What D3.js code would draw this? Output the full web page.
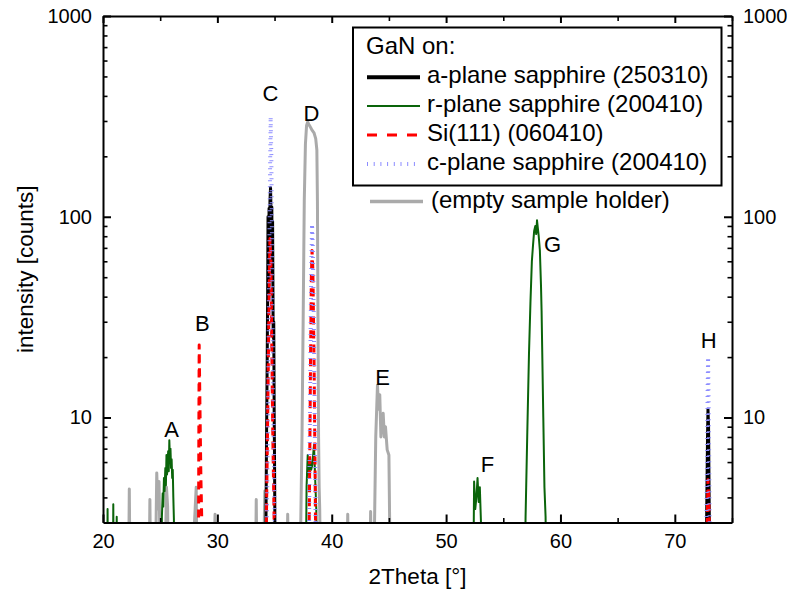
<!DOCTYPE html>
<html>
<head>
<meta charset="utf-8">
<script src="https://cdn.jsdelivr.net/npm/d3@7/dist/d3.min.js"></script>
<style>
  body { margin: 0; background: #fff; }
  svg text { font-family: "Liberation Sans", Arial, Helvetica, sans-serif; fill: #000; }
</style>
</head>
<body>
<svg id="chart" width="787" height="592"></svg>
<script>
// XRD 2theta scans of GaN layers on different substrates (log intensity)

// a-plane sapphire (250310)
const aPlaneX = [20, 34.2, 34.25, 34.3, 34.36, 34.4, 34.43, 34.47, 34.52, 34.56, 34.6, 34.65, 34.68, 34.72,
                 34.76, 34.8, 34.83, 34.88, 34.93, 34.97, 35.0, 35.03, 35.08,
                 72.7, 72.8, 72.86, 72.9, 72.95, 73.0, 73.1, 75];
const aPlaneY = [1, 1, 3, 8, 20, 45, 100, 40, 110, 60, 120, 140, 115, 70,
                 112, 50, 95, 25, 30, 10, 6, 3, 1,
                 1, 4, 8, 11, 9, 4, 1, 1];

// r-plane sapphire (200410)
const rPlaneX = [20, 20.35, 20.4, 20.45, 20.85, 20.9, 20.95, 21.15, 21.2, 21.25,
                 25.1, 25.15, 25.22, 25.27, 25.33, 25.38, 25.45, 25.5, 25.55, 25.6, 25.65, 25.7, 25.75, 25.8,
                 25.85, 25.9, 25.95, 26.0, 26.05, 26.1, 26.15, 26.2, 26.25,
                 37.7, 37.8, 37.9, 38.0, 38.1, 38.2, 38.3, 38.45, 38.55, 38.65, 38.75,
                 52.35, 52.45, 52.55, 52.65, 52.75, 52.85, 52.95, 53.05, 53.15,
                 56.85, 56.95, 57.1, 57.25, 57.38, 57.5, 57.6, 57.7, 57.8, 57.88, 57.95, 58.02, 58.1, 58.2, 58.3, 58.35, 58.5, 58.6, 58.7, 58.8,
                 75];
const rPlaneY = [1, 1, 3.5, 1, 1, 3.7, 1, 1, 3.2, 1,
                 1, 3.2, 4.2, 3.6, 5.0, 4.3, 5.6, 4.6, 6.5, 5.2, 6.0, 6.8, 5.4, 7.7,
                 6.3, 7.0, 5.6, 6.2, 5.0, 5.5, 4.0, 3.1, 1,
                 1, 4.5, 6.5, 5.2, 6.3, 5.5, 5.8, 7.3, 5.0, 3.5, 1,
                 1, 4.8, 3.5, 4.0, 5.0, 3.8, 4.5, 3.0, 1,
                 1, 3.2, 8.4, 21, 38, 60, 72, 85, 90, 82, 96, 88, 80, 68, 45, 34, 10, 4.5, 3.2, 1,
                 1];

// Si(111) (060410)
const siX = [20, 28.33, 28.38, 28.41, 28.45, 28.5, 28.56, 28.63, 28.7,
             34.2, 34.3, 34.4, 34.5, 34.6, 34.68, 34.75, 34.85, 34.95, 35.05,
             37.95, 38.05, 38.15, 38.22, 38.28, 38.35, 38.45, 38.55, 38.65,
             72.75, 72.85, 72.9, 72.95, 73.0, 73.1, 75];
const siY = [1, 1, 8, 23, 15, 9, 5, 3.2, 1,
             1, 3.5, 10, 30, 78, 60, 25, 8, 3.5, 1,
             1, 4, 20, 50, 68, 55, 20, 5, 1,
             1, 3.5, 4.9, 4.2, 3.3, 1, 1];

// c-plane sapphire (200410)
const cPlaneX = [20, 34.25, 34.35, 34.45, 34.55, 34.62, 34.66, 34.72, 34.8, 34.9, 35.0, 35.1,
                 37.95, 38.05, 38.15, 38.22, 38.28, 38.35, 38.45, 38.55, 38.65,
                 72.7, 72.8, 72.87, 72.91, 72.96, 73.02, 73.1, 75];
const cPlaneY = [1, 1, 4, 15, 80, 200, 315, 200, 50, 10, 3.5, 1,
                 1, 5, 25, 60, 92, 70, 25, 6, 1,
                 1, 5, 14, 20, 12, 5, 1, 1];

// empty sample holder
const holderX = [20, 22.25, 22.3, 22.35, 24.05, 24.1, 24.15, 24.6, 24.7, 24.8, 24.9, 25.0,
                 25.45, 25.55, 25.65, 25.7, 27.85, 28.15, 28.2, 29.7, 29.8, 29.9,
                 33.35, 33.4, 33.45, 34.05, 34.15, 34.25, 36.1, 36.15, 36.2,
                 37.25, 37.3, 37.4, 37.5, 37.6, 37.7, 37.8, 37.9, 38.0, 38.1, 38.25, 38.45, 38.6, 38.7,
                 38.75, 38.8, 38.85, 38.9, 38.95, 39.0,
                 41.35, 41.4, 41.45, 43.35, 43.4, 43.45,
                 43.7, 43.85, 44.0, 44.1, 44.2, 44.3, 44.4, 44.5, 44.6, 44.7, 44.85, 45.0, 45.1, 75];
const holderY = [2, 2, 4.4, 2, 2, 3.9, 2, 2, 5.3, 3.5, 4.8, 2,
                 2, 4.5, 3.6, 2, 2, 4.5, 2, 2, 3.3, 2,
                 2, 3.9, 2, 2, 4.3, 2, 2, 3.3, 2,
                 2, 3.2, 8, 30, 120, 230, 285, 297, 288, 282, 272, 262, 245, 215,
                 120, 30, 8, 4.5, 3.5, 2,
                 2, 3.3, 2, 2, 3.4, 2,
                 2, 8, 14.5, 11, 13, 8, 9.5, 10.5, 8, 9, 6.9, 6.5, 2, 2];

// peak letters: label, 2theta of its centre, counts at its baseline
const peakNames = ["A", "B", "C", "D", "E", "F", "G", "H"];
const peakPosX  = [26.0, 28.69, 34.64, 38.22, 44.44, 53.62, 59.31, 72.96];
const peakPosY  = [8.0, 27.0, 377, 301, 14.5, 5.37, 67, 22.3];

const xTicks = [20, 30, 40, 50, 60, 70];
const xMinor = [25, 35, 45, 55, 65, 75];
const yTicks = [10, 100, 1000];
const yMinor = [4, 5, 6, 7, 8, 9, 20, 30, 40, 50, 60, 70, 80, 90, 200, 300, 400, 500, 600, 700, 800, 900];

const series = [
  { name: "r-plane sapphire (200410)", xs: rPlaneX, ys: rPlaneY, color: "#0a640a", width: 2, dash: null,  legendDash: null },
  { name: "(empty sample holder)",     xs: holderX, ys: holderY, color: "#aaaaaa", width: 3, dash: null,  legendDash: null },
  { name: "a-plane sapphire (250310)", xs: aPlaneX, ys: aPlaneY, color: "#000000", width: 3, dash: null,  legendDash: null },
  { name: "Si(111) (060410)",          xs: siX,     ys: siY,     color: "#ff0000", width: 3, dash: "8,6", legendDash: "10,10" },
  { name: "c-plane sapphire (200410)", xs: cPlaneX, ys: cPlaneY, color: "#8c8cff", width: 4, dash: "1,5", legendDash: "1,5.7" }
];
const drawOrder = ["(empty sample holder)", "r-plane sapphire (200410)", "a-plane sapphire (250310)", "Si(111) (060410)", "c-plane sapphire (200410)"];
const legendOrder = ["a-plane sapphire (250310)", "r-plane sapphire (200410)", "Si(111) (060410)", "c-plane sapphire (200410)"];

const W = 787, H = 592;
const margin = { left: 103, right: 55, top: 16, bottom: 69.5 };
const x0 = margin.left, x1 = W - margin.right, y0 = margin.top, y1 = H - margin.bottom;

const svg = d3.select("#chart");
const x = d3.scaleLinear().domain([20, 75]).range([x0, x1]);
const y = d3.scaleLog().domain([3, 1000]).range([y1, y0]);

svg.append("defs").append("clipPath").attr("id", "plotArea")
  .append("rect").attr("x", x0).attr("y", y0).attr("width", x1 - x0).attr("height", y1 - y0);

const line = d3.line().x(d => x(d[0])).y(d => y(d[1]));
const byName = Object.fromEntries(series.map(s => [s.name, s]));

const plot = svg.append("g").attr("clip-path", "url(#plotArea)");
drawOrder.forEach(n => {
  const s = byName[n];
  plot.append("path")
    .datum(s.xs.map((v, i) => [v, s.ys[i]]))
    .attr("fill", "none")
    .attr("stroke", s.color)
    .attr("stroke-width", s.width)
    .attr("stroke-linejoin", "round")
    .attr("stroke-dasharray", s.dash)
    .attr("d", line);
});

// axes: ticks point into the plot, frame on all four sides
const tickFont = 20;
function styleAxis(g) {
  g.select(".domain").attr("stroke", "#000").attr("stroke-width", 2);
  g.selectAll(".tick line").attr("stroke", "#000").attr("stroke-width", 2);
  g.selectAll("text").attr("font-size", tickFont).attr("font-family", null);
}
function minorAxis(axisFn, scale, vals, size, tx, ty) {
  svg.append("g").attr("transform", `translate(${tx},${ty})`)
    .call(axisFn(scale).tickValues(vals).tickSize(-size).tickFormat(""))
    .call(g => { g.select(".domain").remove(); g.selectAll(".tick line").attr("stroke", "#000").attr("stroke-width", 1.6); });
}

svg.append("g").attr("transform", `translate(0,${y1})`)
  .call(d3.axisBottom(x).tickValues(xTicks).tickSizeInner(-8).tickSizeOuter(0).tickPadding(11.5).tickFormat(d3.format("d")))
  .call(styleAxis);
minorAxis(d3.axisBottom, x, xMinor, 4.5, 0, y1);

svg.append("g").attr("transform", `translate(0,${y0})`)
  .call(d3.axisTop(x).tickValues(xTicks).tickSizeInner(-7).tickSizeOuter(0).tickFormat(""))
  .call(styleAxis);
minorAxis(d3.axisTop, x, xMinor, 5, 0, y0);

svg.append("g").attr("transform", `translate(${x0},0)`)
  .call(d3.axisLeft(y).tickValues(yTicks).tickSizeInner(-8).tickSizeOuter(0).tickPadding(11).tickFormat(d3.format("d")))
  .call(styleAxis);
minorAxis(d3.axisLeft, y, yMinor, 4.5, x0, 0);

svg.append("g").attr("transform", `translate(${x1},0)`)
  .call(d3.axisRight(y).tickValues(yTicks).tickSizeInner(-8).tickSizeOuter(0).tickPadding(11).tickFormat(d3.format("d")))
  .call(styleAxis);
minorAxis(d3.axisRight, y, yMinor, 4.5, x1, 0);

// axis titles
svg.append("text")
  .attr("x", (x0 + x1) / 2).attr("y", 584)
  .attr("text-anchor", "middle").attr("font-size", 22.5)
  .text("2Theta [°]");
svg.append("text")
  .attr("transform", `translate(33,${(y0 + y1) / 2}) rotate(-90)`)
  .attr("text-anchor", "middle").attr("font-size", 22.5)
  .text("intensity [counts]");

// peak letters
svg.append("g").selectAll("text")
  .data(peakNames)
  .join("text")
  .attr("x", (d, i) => x(peakPosX[i]))
  .attr("y", (d, i) => y(peakPosY[i]))
  .attr("text-anchor", "middle")
  .attr("font-size", 22)
  .text(d => d);

// legend
const legendFont = 24;
const lg = svg.append("g");
lg.append("rect").attr("x", 353).attr("y", 27.5).attr("width", 368.5).attr("height", 158)
  .attr("fill", "#fff").attr("stroke", "#000").attr("stroke-width", 2);
lg.append("text").attr("x", 366).attr("y", 53.5).attr("font-size", legendFont).text("GaN on:");
const rowBase = [83.3, 112, 141, 170];
legendOrder.forEach((n, i) => {
  const s = byName[n];
  lg.append("line").attr("x1", 367).attr("x2", 420)
    .attr("y1", rowBase[i] - 6).attr("y2", rowBase[i] - 6)
    .attr("stroke", s.color).attr("stroke-width", s.name.startsWith("a-plane") ? 4 : s.width)
    .attr("stroke-dasharray", s.legendDash);
  lg.append("text").attr("x", 427).attr("y", rowBase[i]).attr("font-size", legendFont).text(s.name);
});
const hold = byName["(empty sample holder)"];
lg.append("line").attr("x1", 370).attr("x2", 423).attr("y1", 201.5).attr("y2", 201.5)
  .attr("stroke", hold.color).attr("stroke-width", 3.5);
lg.append("text").attr("x", 431).attr("y", 208).attr("font-size", legendFont).text(hold.name);
</script>
</body>
</html>
